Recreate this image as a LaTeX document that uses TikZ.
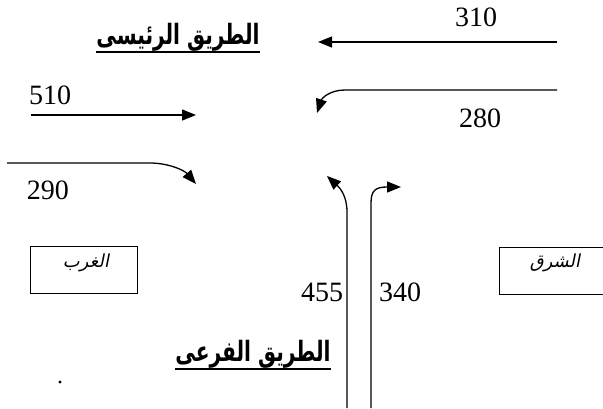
\documentclass[tikz,border=0pt]{standalone}
\usepackage{fontspec}
\setmainfont{Liberation Serif}
\newfontfamily\arabicfont[Script=Arabic,FakeStretch=0.72]{DejaVu Sans}
\newfontfamily\arabicslant[Script=Arabic,FakeSlant=0.2]{DejaVu Sans}
\TeXXeTstate=1
\usetikzlibrary{arrows.meta}
\tikzset{
  flow/.style={line width=1.3pt, -{Triangle[length=14pt,width=11pt]}},
  num/.style={font=\fontsize{28}{28}\selectfont, inner sep=0pt},
  roadtitle/.style={font=\arabicfont\bfseries\fontsize{28}{28}\selectfont, inner sep=0pt},
  uline/.style={line width=1.6pt},
  dirbox/.style={draw, line width=1pt, minimum width=107pt, minimum height=47pt, inner sep=0pt},
  boxtext/.style={font=\arabicslant\fontsize{18}{18}\selectfont, inner sep=0pt}
}
\begin{document}
\begin{tikzpicture}[x=1pt,y=-1pt]
\useasboundingbox[fill=white] (0,0) rectangle (603,408);

% titles
\node[roadtitle] (maintitle) at (178,37) {\beginR الطريق الرئيسى\endR};
\draw[uline] ([yshift=-1pt]maintitle.south west) -- ([yshift=-1pt]maintitle.south east);
\node[roadtitle] (sidetitle) at (253,354) {\beginR الطريق الفرعى\endR};
\draw[uline] ([yshift=-1pt]sidetitle.south west) -- ([yshift=-1pt]sidetitle.south east);

% numbers
\node[num] (n310) at (476,17) {310};
\node[num] (n510) at (50,95) {510};
\node[num] (n280) at (480,118) {280};
\node[num] (n290) at (48,190) {290};
\node[num] (n455) at (322,292) {455};
\node[num] (n340) at (400,292) {340};

% direction boxes
\node[dirbox] (west) at (84,270) {};
\node[boxtext] (westlbl) at (86,263) {\beginR الغرب\endR};
\node[dirbox] (east) at (553,271) {};
\node[boxtext] (eastlbl) at (555,263) {\beginR الشرق\endR};

% flow coordinates
\coordinate (e310s) at (557,42);
\coordinate (e310t) at (318,42);
\coordinate (e280s) at (557,90);
\coordinate (e280t) at (317,113);
\coordinate (w510s) at (31,115);
\coordinate (w510t) at (196,115);
\coordinate (w290s) at (7,163);
\coordinate (w290t) at (196,184);
\coordinate (s455s) at (347,408);
\coordinate (s455t) at (327,176);
\coordinate (s340s) at (371,408);
\coordinate (s340t) at (401,187);

\draw[flow] (e310s) -- (e310t);
\draw[flow] (e280s) -- (345,90) .. controls (330,90) and (322,98) .. (e280t);
\draw[flow] (w510s) -- (w510t);
\draw[flow] (w290s) -- (150,163) .. controls (168,163) and (184,170) .. (w290t);
\draw[flow] (s455s) -- (347,212) .. controls (347,196) and (340,188) .. (s455t);
\draw[flow] (s340s) -- (371,203) .. controls (371,190) and (376,187) .. (s340t);

% dot
\fill (60,382) circle (1.6pt);
\end{tikzpicture}
\end{document}
